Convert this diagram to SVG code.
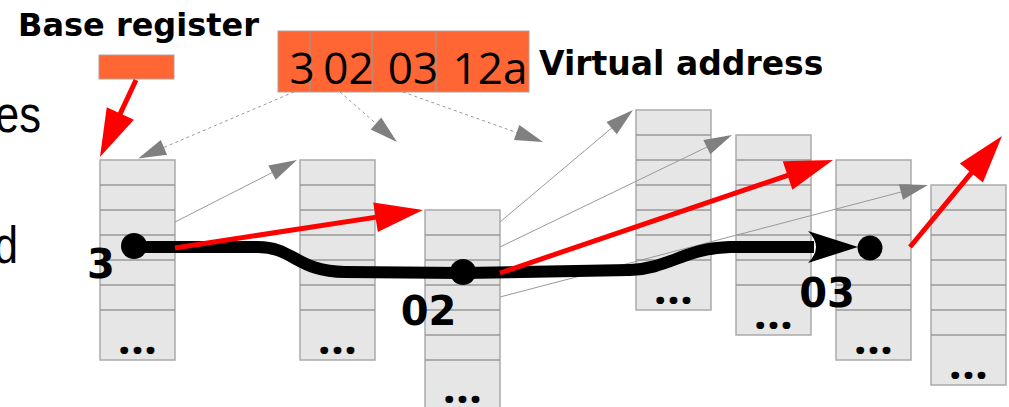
<svg xmlns="http://www.w3.org/2000/svg" xmlns:xlink="http://www.w3.org/1999/xlink" width="1009" height="407" viewBox="0 0 1009 407">
  <style>
    .cell { fill: #e6e6e6; stroke: #aaaaaa; stroke-width: 1.5; }
    .row { stroke: #999999; stroke-width: 1.5; }
    .dots { font-family: "Open Sans", sans-serif; font-weight: 800; font-size: 38px; letter-spacing: 2.2px; text-anchor: middle; fill: #000; }
    .bold { font-family: "DejaVu Sans", sans-serif; font-weight: bold; fill: #000; }
    .digits { font-family: "Open Sans", sans-serif; font-size: 44px; fill: #000; text-anchor: middle; }
    .reg { fill: #ff6633; stroke: #b0a098; stroke-width: 1; }
    .divider { stroke: #999999; stroke-width: 1.2; }
    .side { font-family: "Liberation Sans", Arial, sans-serif; font-size: 52px; fill: #000; }
    .ptr { fill: none; stroke: #999999; stroke-width: 1; marker-end: url(#grayHead); }
    .ptr.dashed { stroke-dasharray: 3 3; }
    .walk { fill: none; stroke: #ff0000; stroke-width: 5; marker-end: url(#redHead); }
    .path { fill: none; stroke: #000; stroke-width: 12; marker-end: url(#blackHead); }
  </style>
  <defs>
    <marker id="grayHead" markerUnits="userSpaceOnUse" viewBox="0 -8 27 16" refX="0" refY="0" markerWidth="27" markerHeight="16" orient="auto" overflow="visible">
      <path d="M-1,-8 L27,0 L-1,8 Z" fill="#808080"/>
    </marker>
    <marker id="redHead" markerUnits="userSpaceOnUse" viewBox="0 -15 47 30" refX="0" refY="0" markerWidth="47" markerHeight="30" orient="auto" overflow="visible">
      <path d="M-1,-15 L47,0 L-1,15 Z" fill="#ff0000"/>
    </marker>
    <marker id="blackHead" markerUnits="userSpaceOnUse" viewBox="0 -16 50 32" refX="6" refY="0" markerWidth="50" markerHeight="32" orient="auto" overflow="visible">
      <path d="M0,-16 Q16,0 0,16 L50,0 Z" fill="#000"/>
    </marker>
    <!-- one page-table column: six entries plus an open-ended tail -->
    <g id="pageTable">
      <rect class="cell" x="0" y="0" width="75" height="200"/>
      <line class="row" x1="0" y1="25" x2="75" y2="25"/>
      <line class="row" x1="0" y1="50" x2="75" y2="50"/>
      <line class="row" x1="0" y1="75" x2="75" y2="75"/>
      <line class="row" x1="0" y1="100" x2="75" y2="100"/>
      <line class="row" x1="0" y1="125" x2="75" y2="125"/>
      <line class="row" x1="0" y1="150" x2="75" y2="150"/>
    </g>
  </defs>

  <rect width="1009" height="407" fill="#ffffff"/>

  <!-- clipped slide text at the left margin -->
  <text class="side" x="-5" y="132" textLength="46" lengthAdjust="spacingAndGlyphs">es</text>
  <text class="side" x="-6" y="263" textLength="24" lengthAdjust="spacingAndGlyphs">d</text>

  <!-- base register -->
  <g id="base-register">
    <text class="bold" x="18" y="36" font-size="32">Base register</text>
    <rect class="reg" x="99" y="55" width="75" height="24"/>
  </g>

  <!-- virtual address split into index fields -->
  <g id="virtual-address">
    <rect class="reg" x="278" y="31" width="251" height="61"/>
    <line class="divider" x1="310" y1="31" x2="310" y2="92"/>
    <line class="divider" x1="372" y1="31" x2="372" y2="92"/>
    <line class="divider" x1="436" y1="31" x2="436" y2="92"/>
    <text class="digits" x="302" y="84">3</text>
    <text class="digits" x="348.5" y="84">02</text>
    <text class="digits" x="413" y="84">03</text>
    <text class="digits" x="490" y="84">12a</text>
    <text class="bold" x="539" y="75" font-size="33">Virtual address</text>
  </g>

  <!-- page tables -->
  <g id="table-1">
    <use xlink:href="#pageTable" x="100" y="160"/>
    <text class="dots" x="138.5" y="354">...</text>
  </g>
  <g id="table-2">
    <use xlink:href="#pageTable" x="300" y="160"/>
    <text class="dots" x="338.5" y="354">...</text>
  </g>
  <g id="table-3">
    <use xlink:href="#pageTable" x="425" y="210"/>
    <text class="dots" x="463.5" y="403">...</text>
  </g>
  <g id="table-4">
    <use xlink:href="#pageTable" x="636" y="110"/>
    <text class="dots" x="674.5" y="304">...</text>
  </g>
  <g id="table-5">
    <use xlink:href="#pageTable" x="736" y="135"/>
    <text class="dots" x="774.5" y="329">...</text>
  </g>
  <g id="table-6">
    <use xlink:href="#pageTable" x="836" y="160"/>
    <text class="dots" x="874.5" y="354">...</text>
  </g>
  <g id="table-7">
    <use xlink:href="#pageTable" x="931" y="185"/>
    <text class="dots" x="969.5" y="379">...</text>
  </g>

  <!-- connectors -->
  <g id="connectors">
    <!-- index fields to table levels -->
    <path class="ptr dashed" d="M294,92 L163,147.8"/>
    <path class="ptr dashed" d="M340,92 L376.7,124.2"/>
    <path class="ptr dashed" d="M403,92 L517.6,132.9"/>
    <!-- other entries pointing to further tables -->
    <path class="ptr" d="M175,222 L272.9,172.2"/>
    <path class="ptr" d="M500,222 L612.4,127.4"/>
    <path class="ptr" d="M500,247 L707.7,146.7"/>
    <path class="ptr" d="M500,297 L901.9,191.8"/>

    <!-- walk through the selected entries -->
    <path class="path" d="M134,247 L258,247 C293,247 298,272 345,272 L463,273 L630,270 C668,269 685,248 730,247 L814,247"/>
    <circle cx="134" cy="246" r="13" fill="#000"/>
    <circle cx="463" cy="272" r="13" fill="#000"/>
    <circle cx="870" cy="248" r="12.5" fill="#000"/>

    <!-- next-level pointers -->
    <path class="walk" d="M136,80 L119.9,114.4"/>
    <path class="walk" d="M175,248 L376.5,217.1"/>
    <path class="walk" d="M500,273 L788.5,175.1"/>
    <path class="walk" d="M910,247 L972,172.2"/>
  </g>

  <!-- index labels -->
  <g id="labels">
    <text class="bold" x="101" y="278" font-size="40" text-anchor="middle">3</text>
    <text class="bold" x="428.5" y="325" font-size="40" text-anchor="middle">02</text>
    <text class="bold" x="827" y="307" font-size="40" text-anchor="middle">03</text>
  </g>
</svg>
